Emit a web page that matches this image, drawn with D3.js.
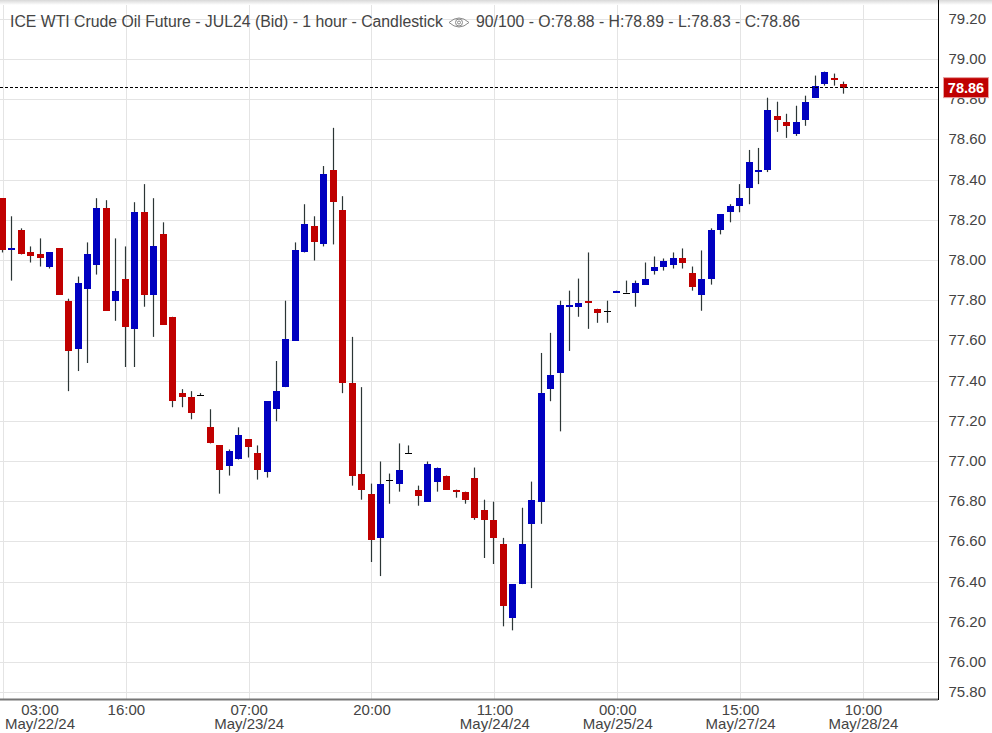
<!DOCTYPE html>
<html>
<head>
<meta charset="utf-8">
<script src="https://cdn.jsdelivr.net/npm/d3@7"></script>
<style>
  html, body { margin: 0; padding: 0; background: #fff; }
  svg { display: block; font-family: "Liberation Sans", Arial, sans-serif; }
</style>
</head>
<body>
<div id="chart"></div>
<script>
const title = "ICE WTI Crude Oil Future - JUL24 (Bid) - 1 hour - Candlestick";
const quote = "90/100 - O:78.88 - H:78.89 - L:78.83 - C:78.86";
const lastPrice = 78.86;

// one entry per hourly bar, oldest first
const opens = [78.31,78.05,78.15,78.04,78.03,77.97,78.06,77.80,77.56,77.86,77.98,78.26,77.80,77.91,77.66,78.24,77.83,78.13,77.72,77.34,
  77.32,77.33,77.17,77.08,76.98,77.01,77.11,77.04,76.95,77.26,77.37,77.60,78.04,78.17,78.08,78.45,78.25,77.39,76.94,76.84,
  76.62,76.91,76.89,77.04,76.86,76.80,76.90,76.93,76.86,76.85,76.92,76.76,76.71,76.59,76.22,76.39,76.69,76.80,77.36,77.44,
  77.77,77.77,77.80,77.76,77.75,77.84,77.84,77.84,77.88,77.95,77.97,77.98,78.01,77.94,77.83,77.91,78.15,78.24,78.27,78.36,
  78.44,78.45,78.72,78.69,78.63,78.70,78.81,78.88,78.91,78.88];
const highs = [78.31,78.22,78.16,78.07,78.11,78.04,78.06,77.81,77.92,78.09,78.31,78.30,78.11,78.07,78.29,78.38,78.31,78.19,77.72,77.36,
  77.35,77.34,77.26,77.08,77.06,77.17,77.11,77.08,77.30,77.50,77.80,78.09,78.28,78.22,78.47,78.66,78.32,77.62,77.37,76.89,
  77.00,76.94,77.09,77.08,76.88,77.00,76.97,76.93,76.86,76.85,76.97,76.81,76.80,76.62,76.39,76.77,76.90,77.54,77.64,77.80,
  77.85,77.91,78.04,77.76,77.80,77.85,77.90,77.90,77.99,78.02,78.01,78.04,78.06,77.97,78.05,78.16,78.23,78.28,78.38,78.55,
  78.56,78.81,78.79,78.73,78.77,78.82,78.92,78.94,78.93,78.89];
const lows = [78.04,77.90,78.03,77.99,77.97,77.96,77.83,77.35,77.45,77.49,77.93,77.75,77.70,77.47,77.47,77.77,77.62,77.68,77.27,77.27,
  77.21,77.33,77.09,76.84,76.93,77.01,77.02,76.91,76.92,77.20,77.37,77.60,78.04,78.00,78.07,78.08,77.34,76.88,76.81,76.50,
  76.43,76.79,76.85,77.04,76.78,76.80,76.85,76.86,76.82,76.79,76.71,76.52,76.49,76.18,76.16,76.39,76.37,76.69,77.30,77.15,
  77.55,77.72,77.66,77.69,77.69,77.84,77.84,77.77,77.88,77.93,77.95,77.96,77.96,77.85,77.75,77.88,78.13,78.19,78.24,78.28,
  78.38,78.44,78.64,78.61,78.62,78.67,78.81,78.87,78.87,78.83];
const closes = [78.05,78.06,78.03,78.02,78.01,78.04,77.83,77.55,77.89,78.03,78.26,77.75,77.85,77.67,78.24,77.83,78.07,77.68,77.30,77.32,
  77.24,77.33,77.09,76.96,77.05,77.13,77.07,76.96,77.30,77.35,77.61,78.05,78.18,78.09,78.43,78.29,77.39,76.93,76.86,76.61,
  76.89,76.91,76.96,77.04,76.83,76.99,76.97,76.86,76.85,76.81,76.72,76.71,76.62,76.28,76.39,76.59,76.81,77.34,77.43,77.78,
  77.78,77.79,77.79,77.74,77.75,77.85,77.84,77.89,77.91,77.97,78.00,78.01,77.99,77.87,77.91,78.15,78.23,78.27,78.31,78.49,
  78.45,78.75,78.70,78.67,78.69,78.79,78.87,78.94,78.90,78.86];

const priceTicks = [75.8,76,76.2,76.4,76.6,76.8,77,77.2,77.4,77.6,77.8,78,78.2,78.4,78.6,78.8,79,79.2];
const timeTicks = [0,13,26,39,52,65,78,91];
const timeLabels = ["03:00","16:00","07:00","20:00","11:00","00:00","15:00","10:00"];
const dateLabels = ["May/22/24","","May/23/24","","May/24/24","May/25/24","May/27/24","May/28/24"];

const width = 992, height = 733;
const plotRight = 938, plotBottom = 699;
const blue = "#0000c0", red = "#c00000", textColor = "#444", gridColor = "#e4e4e4";

const bars = d3.range(opens.length).map((i) => ({
  i, open: opens[i], high: highs[i], low: lows[i], close: closes[i],
}));

const xScale = d3.scaleLinear().domain([0, 89]).range([2.5, 843.5]);
// the chart squeezes its bottom tick, hence the extra stop
const yScale = d3.scaleLinear().domain([75.8, 76, 79]).range([692.5, 662.5, 59.5]);

const svg = d3.select("#chart").append("svg")
  .attr("width", width)
  .attr("height", height)
  .attr("viewBox", `0 0 ${width} ${height}`);

const grad = svg.append("defs").append("linearGradient")
  .attr("id", "topShade").attr("x1", 0).attr("x2", 0).attr("y1", 0).attr("y2", 1);
grad.append("stop").attr("offset", 0).attr("stop-color", "#d8d8d8");
grad.append("stop").attr("offset", 1).attr("stop-color", "#fff");

// grid
svg.append("g").selectAll("line")
  .data(priceTicks)
  .enter()
  .append("line")
  .attr("x1", 0)
  .attr("x2", plotRight)
  .attr("y1", (d) => Math.floor(yScale(d)) + 0.5)
  .attr("y2", (d) => Math.floor(yScale(d)) + 0.5)
  .attr("stroke", gridColor);

svg.append("g").selectAll("line")
  .data(timeTicks)
  .enter()
  .append("line")
  .attr("x1", (d) => Math.floor(xScale(d) + 0.9) + 0.5)
  .attr("x2", (d) => Math.floor(xScale(d) + 0.9) + 0.5)
  .attr("y1", 0)
  .attr("y2", plotBottom)
  .attr("stroke", gridColor);

svg.append("rect")
  .attr("width", width).attr("height", 5)
  .attr("fill", "url(#topShade)");

// candles
const candles = svg.append("g").selectAll("g")
  .data(bars)
  .enter()
  .append("g");

candles.append("line")
  .attr("x1", (d) => Math.floor(xScale(d.i)) + 0.5)
  .attr("x2", (d) => Math.floor(xScale(d.i)) + 0.5)
  .attr("y1", (d) => yScale(d.high))
  .attr("y2", (d) => yScale(d.low))
  .attr("stroke", "#2b3535")
  .attr("stroke-width", 1.2);

candles.append("rect")
  .attr("x", (d) => Math.floor(xScale(d.i)) - 3)
  .attr("width", 7)
  .attr("y", (d) => Math.round(yScale(Math.max(d.open, d.close))))
  .attr("height", (d) =>
    Math.max(1, Math.round(yScale(Math.min(d.open, d.close))) - Math.round(yScale(Math.max(d.open, d.close))))
  )
  .attr("fill", (d) => (d.close > d.open ? blue : d.close < d.open ? red : "#000"));

// last price line
svg.append("line")
  .attr("x1", 0)
  .attr("x2", plotRight)
  .attr("y1", Math.floor(yScale(lastPrice)) + 0.5)
  .attr("y2", Math.floor(yScale(lastPrice)) + 0.5)
  .attr("stroke", "#000")
  .attr("stroke-dasharray", "3,2");

// axes
const yAxis = d3.axisRight(yScale)
  .tickValues(priceTicks)
  .tickSize(0)
  .tickPadding(10)
  .tickFormat(d3.format(".2f"));

const yAxisGroup = svg.append("g")
  .attr("transform", `translate(${plotRight + 0.5}, 0)`)
  .call(yAxis);
yAxisGroup.select(".domain").remove();
yAxisGroup.selectAll("text")
  .attr("font-size", 15)
  .attr("dy", 4)
  .attr("fill", textColor);

svg.append("line")
  .attr("x1", plotRight + 0.5)
  .attr("x2", plotRight + 0.5)
  .attr("y1", 0)
  .attr("y2", plotBottom + 1)
  .attr("stroke", "#000");

const xAxis = d3.axisBottom(xScale).tickValues(timeTicks).tickSize(0).tickFormat("");
const xAxisGroup = svg.append("g")
  .attr("transform", `translate(0, ${plotBottom + 0.5})`)
  .call(xAxis);
xAxisGroup.select(".domain").remove();

const xLabels = xAxisGroup.selectAll(".tick text")
  .attr("font-size", 15)
  .attr("fill", textColor)
  .attr("y", 0)
  .attr("dy", 0);
xLabels.each(function (d, i) {
  // first label is pushed right so the date stays on screen
  const dx = i === 0 ? 37 : 0.5;
  const label = d3.select(this);
  label.append("tspan").attr("x", dx).attr("y", 15.5).text(timeLabels[i]);
  label.append("tspan").attr("x", dx).attr("y", 29).text(dateLabels[i]);
});

svg.append("line")
  .attr("x1", 0)
  .attr("x2", plotRight)
  .attr("y1", plotBottom + 0.5)
  .attr("y2", plotBottom + 0.5)
  .attr("stroke", "#777")
  .attr("stroke-width", 2);

// price tag
svg.append("rect")
  .attr("x", 943.5)
  .attr("y", yScale(lastPrice) - 10)
  .attr("width", 45)
  .attr("height", 20)
  .attr("fill", red)
  .attr("stroke", "#e8a0a0");
svg.append("text")
  .attr("x", 966)
  .attr("y", yScale(lastPrice) + 5)
  .attr("text-anchor", "middle")
  .attr("font-size", 14.5)
  .attr("font-weight", "bold")
  .attr("fill", "#fff")
  .text(d3.format(".2f")(lastPrice));

// header
svg.append("text")
  .attr("x", 10)
  .attr("y", 27)
  .attr("font-size", 15.8)
  .attr("fill", textColor)
  .text(title);
svg.append("text")
  .attr("x", 476)
  .attr("y", 27)
  .attr("font-size", 15.8)
  .attr("fill", textColor)
  .text(quote);

const eye = svg.append("g")
  .attr("transform", "translate(459, 22.5)")
  .attr("fill", "none")
  .attr("stroke", "#8a8a8a");
eye.append("path").attr("d", "M-10,0 Q0,-9 10,0 Q0,9 -10,0 Z");
eye.append("circle").attr("r", 3.5);
eye.append("circle").attr("r", 1.5);
</script>
</body>
</html>
